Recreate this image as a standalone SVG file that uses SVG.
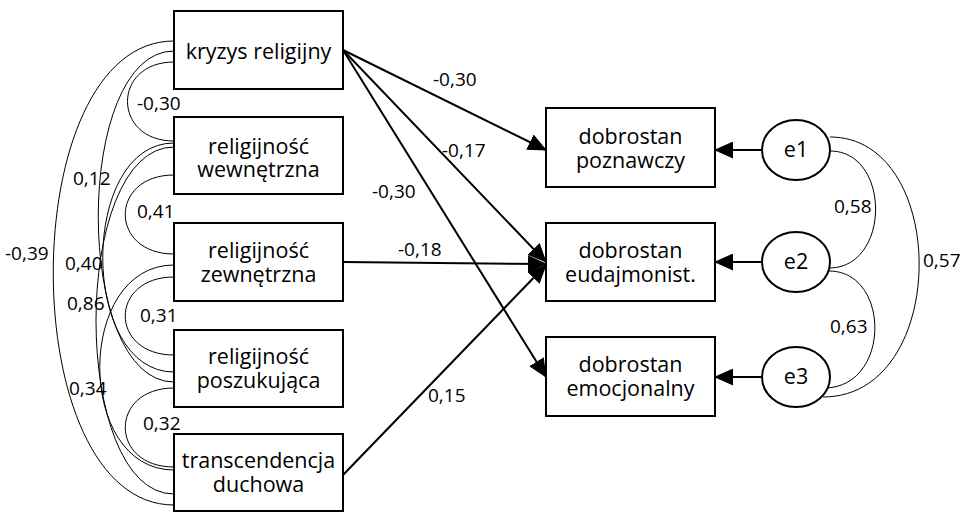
<svg xmlns="http://www.w3.org/2000/svg" width="963" height="513" viewBox="0 0 963 513">
  <style>
    .box { fill: #fff; stroke: #000; stroke-width: 2; }
    .err { fill: #fff; stroke: #000; stroke-width: 2; }
    .lbl { font-family: "Open Sans", "Liberation Sans", sans-serif; font-size: 21.5px; fill: #000; text-anchor: middle; }
    .num { font-family: "Open Sans", "Liberation Sans", sans-serif; font-size: 19px; fill: #000; }
    .path { fill: none; stroke: #000; stroke-width: 2; marker-end: url(#head); }
    .cov { fill: none; stroke: #000; stroke-width: 1; }
  </style>
  <defs>
    <marker id="head" markerUnits="userSpaceOnUse" markerWidth="19" markerHeight="17" refX="18" refY="8.5" orient="auto">
      <path d="M0,0 L19,8.5 L0,17 z" fill="#000"/>
    </marker>
  </defs>

  <!-- correlations among predictors and among residuals -->
  <g id="connectors">
    <path class="cov" d="M174,62 C112,62 112,141 174,141"/>
    <path class="cov" d="M174,175 C109,175 109,254 174,254"/>
    <path class="cov" d="M174,277 C109,277 109,355 174,355"/>
    <path class="cov" d="M174,388 C109,388 109,467 174,467"/>
    <path class="cov" d="M174,51 C73,51 73,382 174,382"/>
    <path class="cov" d="M174,143 C79,143 79,372 174,372"/>
    <path class="cov" d="M174,147 C70,147 70,494 174,494"/>
    <path class="cov" d="M174,265 C75,265 75,470 174,470"/>
    <path class="cov" d="M174,41 C13,41 13,505 174,505"/>

    <path class="cov" d="M830,151 C891,151 891,268 829,268"/>
    <path class="cov" d="M829,271 C891,271 891,388 824,388"/>
    <path class="cov" d="M830,137 C950,137 950,397 823,397"/>

    <!-- regression paths -->
    <line class="path" x1="343" y1="50" x2="546" y2="150"/>
    <line class="path" x1="343" y1="50" x2="546" y2="262"/>
    <line class="path" x1="343" y1="50" x2="546" y2="377"/>
    <line class="path" x1="343" y1="262" x2="546" y2="264"/>
    <line class="path" x1="343" y1="475" x2="546" y2="265"/>

    <!-- residual paths -->
    <line class="path" x1="762" y1="150" x2="715" y2="150"/>
    <line class="path" x1="762" y1="262" x2="715" y2="262"/>
    <line class="path" x1="762" y1="377" x2="715" y2="377"/>
  </g>

  <!-- coefficient labels -->
  <g id="labels">
    <text class="num" x="137" y="110">-0,30</text>
    <text class="num" x="73" y="185">0,12</text>
    <text class="num" x="137" y="218">0,41</text>
    <text class="num" x="5" y="260">-0,39</text>
    <text class="num" x="65" y="270">0,40</text>
    <text class="num" x="67" y="310">0,86</text>
    <text class="num" x="140" y="322">0,31</text>
    <text class="num" x="69" y="395">0,34</text>
    <text class="num" x="143" y="430">0,32</text>
    <text class="num" x="433" y="86">-0,30</text>
    <text class="num" x="442" y="157">-0,17</text>
    <text class="num" x="372" y="198">-0,30</text>
    <text class="num" x="398" y="256">-0,18</text>
    <text class="num" x="428" y="402">0,15</text>
    <text class="num" x="834" y="213">0,58</text>
    <text class="num" x="830" y="333">0,63</text>
    <text class="num" x="923" y="267">0,57</text>
  </g>

  <g id="kryzys">
    <rect class="box" x="174" y="11" width="169" height="78"/>
    <text class="lbl" x="258.5" y="59">kryzys religijny</text>
  </g>
  <g id="wewnetrzna">
    <rect class="box" x="174" y="117" width="169" height="77"/>
    <text class="lbl" x="258.5" y="154">religijność</text>
    <text class="lbl" x="258.5" y="177">wewnętrzna</text>
  </g>
  <g id="zewnetrzna">
    <rect class="box" x="174" y="223" width="169" height="78"/>
    <text class="lbl" x="258.5" y="258">religijność</text>
    <text class="lbl" x="258.5" y="282">zewnętrzna</text>
  </g>
  <g id="poszukujaca">
    <rect class="box" x="174" y="330" width="169" height="77"/>
    <text class="lbl" x="258.5" y="364">religijność</text>
    <text class="lbl" x="258.5" y="388">poszukująca</text>
  </g>
  <g id="transcendencja">
    <rect class="box" x="174" y="434" width="169" height="77"/>
    <text class="lbl" x="258.5" y="468">transcendencja</text>
    <text class="lbl" x="258.5" y="492">duchowa</text>
  </g>

  <g id="poznawczy">
    <rect class="box" x="546" y="108" width="169" height="79"/>
    <text class="lbl" x="630.5" y="144">dobrostan</text>
    <text class="lbl" x="630.5" y="168">poznawczy</text>
  </g>
  <g id="eudajmonist">
    <rect class="box" x="546" y="223" width="169" height="78"/>
    <text class="lbl" x="630.5" y="258">dobrostan</text>
    <text class="lbl" x="630.5" y="282">eudajmonist.</text>
  </g>
  <g id="emocjonalny">
    <rect class="box" x="546" y="337" width="169" height="79"/>
    <text class="lbl" x="630.5" y="372">dobrostan</text>
    <text class="lbl" x="630.5" y="396">emocjonalny</text>
  </g>

  <g id="e1">
    <ellipse class="err" cx="796" cy="150" rx="34" ry="30"/>
    <text class="lbl" x="796" y="157">e1</text>
  </g>
  <g id="e2">
    <ellipse class="err" cx="796" cy="262" rx="34" ry="30"/>
    <text class="lbl" x="796" y="269">e2</text>
  </g>
  <g id="e3">
    <ellipse class="err" cx="796" cy="377" rx="34" ry="30"/>
    <text class="lbl" x="796" y="384">e3</text>
  </g>
</svg>
